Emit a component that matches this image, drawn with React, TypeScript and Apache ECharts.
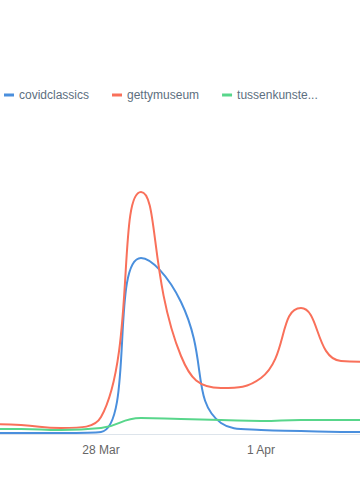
import React, { useEffect, useRef } from "react";
import * as echarts from "echarts";

const days = [25, 26, 27, 28, 29, 30, 31, 32, 33, 34, 35];
const seriesNames = ["covidclassics", "gettymuseum", "tussenkunstenquarantaine"];
const covidclassics = [1, 1, 1, 2, 176, 132, 11, 4, 3, 2, 2];
const gettymuseum = [10, 9, 6, 17, 242, 78, 46, 56, 126, 73, 72];
const tussenkunsten = [5, 5, 4, 6, 16, 15, 14, 13, 14, 14, 14];
const tickDays = [28, 32];
const colors = ["#4a8fdd", "#f9705a", "#58d68b"];

function dayLabel(v: number) {
  return v <= 31 ? `${v} Mar` : `${v - 31} Apr`;
}

export default function App() {
  const ref = useRef<HTMLDivElement>(null);
  useEffect(() => {
    const chart = echarts.init(ref.current!, null, { renderer: "svg" });
    const all = [covidclassics, gettymuseum, tussenkunsten];
    chart.setOption({
      animation: false,
      color: colors,
      legend: {
        left: 0,
        top: 84,
        padding: [5, 5, 5, 4],
        itemWidth: 10,
        itemHeight: 3,
        itemGap: 23,
        icon: "rect",
        textStyle: { fontSize: 12, color: "#5d6f80", fontFamily: "Liberation Sans" },
        formatter: (name: string) => (name.length > 15 ? name.slice(0, 12) + "..." : name),
      },
      grid: { left: 0, right: 0, top: 134, bottom: 66 },
      xAxis: {
        type: "value",
        min: 25.475,
        max: 34.475,
        axisLine: { lineStyle: { color: "#dde4eb" } },
        axisTick: { show: false },
        splitLine: { show: false },
        axisLabel: {
          customValues: tickDays,
          formatter: (v: number) => dayLabel(v),
          color: "#666",
          fontSize: 12,
          margin: 10,
          fontFamily: "Liberation Sans",
        },
      },
      yAxis: { type: "value", min: 0, max: 300, show: false },
      series: seriesNames.map((name, i) => ({
        name,
        type: "line",
        smooth: true,
        symbol: "none",
        lineStyle: { width: 2 },
        data: days.map((d, j) => [d, all[i][j]]),
      })),
    });
    return () => chart.dispose();
  }, []);
  return (
    <div
      ref={ref}
      style={{ position: "fixed", left: 0, top: 0, width: 360, height: 500, background: "#fff" }}
    />
  );
}
